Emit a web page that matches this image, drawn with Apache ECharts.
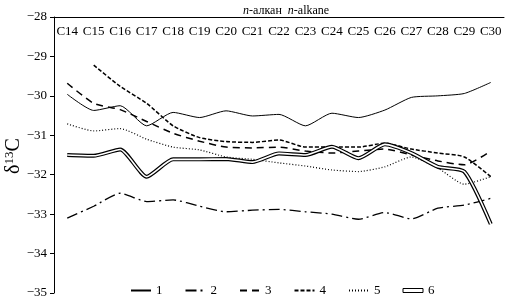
<!DOCTYPE html>
<html>
<head>
<meta charset="utf-8">
<script src="https://cdn.jsdelivr.net/npm/echarts@6/dist/echarts.min.js"></script>
<style>
  html, body { margin: 0; padding: 0; background: #fff; }
  #chart { width: 508px; height: 300px; }
</style>
</head>
<body>
<div id="chart"></div>
<script>
// n-alkane carbon numbers
const categories = ['C14', 'C15', 'C16', 'C17', 'C18', 'C19', 'C20', 'C21', 'C22',
  'C23', 'C24', 'C25', 'C26', 'C27', 'C28', 'C29', 'C30']
const yTicks = [-35, -34, -33, -32, -31, -30, -29, -28]
const names = ['1', '2', '3', '4', '5', '6']
// δ13C values, one array per sample
const s1 = [-29.96, -30.37, -30.25, -30.76, -30.42, -30.55, -30.38, -30.51, -30.47,
  -30.76, -30.44, -30.55, -30.36, -30.04, -30.0, -29.94, -29.66]
const s2 = [-33.1, -32.8, -32.47, -32.68, -32.64, -32.8, -32.94, -32.9, -32.88,
  -32.94, -33.0, -33.13, -32.96, -33.12, -32.85, -32.77, -32.6]
const s3 = [-29.68, -30.19, -30.35, -30.65, -30.95, -31.15, -31.3, -31.32, -31.3,
  -31.4, -31.45, -31.4, -31.35, -31.5, -31.65, -31.75, -31.4]
const s4 = [null, -29.22, -29.76, -30.19, -30.76, -31.06, -31.16, -31.18, -31.12,
  -31.3, -31.3, -31.3, -31.2, -31.35, -31.45, -31.55, -32.05]
const s5 = [-30.71, -30.89, -30.83, -31.1, -31.3, -31.37, -31.55, -31.61, -31.7,
  -31.78, -31.88, -31.92, -31.8, -31.55, -31.83, -32.24, -32.05]
const s6 = [-31.5, -31.52, -31.36, -32.05, -31.61, -31.61, -31.6, -31.68, -31.46,
  -31.5, -31.29, -31.58, -31.23, -31.45, -31.8, -31.92, -33.25]

const font = 'Liberation Serif'
const line = (name, data, lineStyle, extra) => Object.assign({
  name: name,
  type: 'line',
  data: data,
  smooth: 0.2,
  symbol: 'none',
  color: '#000',
  itemStyle: { color: '#000' },
  lineStyle: Object.assign({ color: '#000', width: 1 }, lineStyle)
}, extra || {})

const myChart = echarts.init(document.getElementById('chart'), null, { renderer: 'canvas' })
myChart.setOption({
  backgroundColor: '#fff',
  animation: false,
  color: ['#000'],
  textStyle: { fontFamily: font, color: '#000' },
  title: {
    text: '{i|n}{r|-алкан  }{i|n}{r|-alkane}',
    left: 238,
    top: 0,
    textStyle: {
      fontFamily: font,
      fontSize: 12,
      fontWeight: 'normal',
      color: '#000',
      rich: {
        i: { fontFamily: font, fontStyle: 'italic', fontSize: 12, color: '#000' },
        r: { fontFamily: font, fontSize: 12, color: '#000' }
      }
    }
  },
  grid: { left: 54, right: 4, top: 17, bottom: 7 },
  legend: {
    data: names.map(n => n === '6'
      ? { name: n, icon: 'rect', itemStyle: { color: '#fff', borderColor: '#000', borderWidth: 1 } }
      : { name: n, itemStyle: { opacity: 0 } }),
    left: 125,
    top: 279,
    itemWidth: 20,
    itemHeight: 4,
    itemGap: 22,
    textStyle: { fontFamily: font, fontSize: 13, color: '#000' }
  },
  xAxis: {
    type: 'category',
    position: 'top',
    data: categories,
    boundaryGap: true,
    axisLine: { lineStyle: { color: '#000', width: 1 } },
    axisTick: { inside: true, length: 4, lineStyle: { color: '#000' } },
    axisLabel: { inside: true, margin: 8, fontFamily: font, fontSize: 13, color: '#000', interval: 0 },
    splitLine: { show: false }
  },
  yAxis: {
    type: 'value',
    min: yTicks[0],
    max: yTicks[yTicks.length - 1],
    interval: 1,
    axisLine: { show: true, lineStyle: { color: '#000', width: 1 } },
    axisTick: { show: true, length: 4, lineStyle: { color: '#000' } },
    axisLabel: {
      fontFamily: font,
      fontSize: 13,
      color: '#000',
      margin: 7,
      formatter: v => String(v).replace('-', '\u2212')
    },
    splitLine: { show: false }
  },
  graphic: [{
    type: 'text',
    x: 3,
    y: 174,
    rotation: Math.PI / 2,
    style: {
      text: '{d|δ}{s|13}{d|C}',
      fill: '#000',
      rich: {
        d: { fontFamily: font, fontSize: 20, fill: '#000' },
        s: { fontFamily: font, fontSize: 13, fill: '#000', verticalAlign: 'top', padding: [0, 0, 9, 0] }
      }
    }
  }],
  series: [
    line('1', s1, { type: 'solid' }),
    line('2', s2, { type: [11, 4, 2, 4], width: 1.3 }),
    line('3', s3, { type: [7, 5], width: 1.5 }),
    line('4', s4, { type: [4, 2], width: 1.5 }),
    line('5', s5, { type: [1, 2], width: 1.2 }),
    line('6', s6, { width: 4 }, { z: 3 }),
    line('6w', s6, { color: '#fff', width: 1.6 }, { z: 4 })
  ]
})
</script>
</body>
</html>
